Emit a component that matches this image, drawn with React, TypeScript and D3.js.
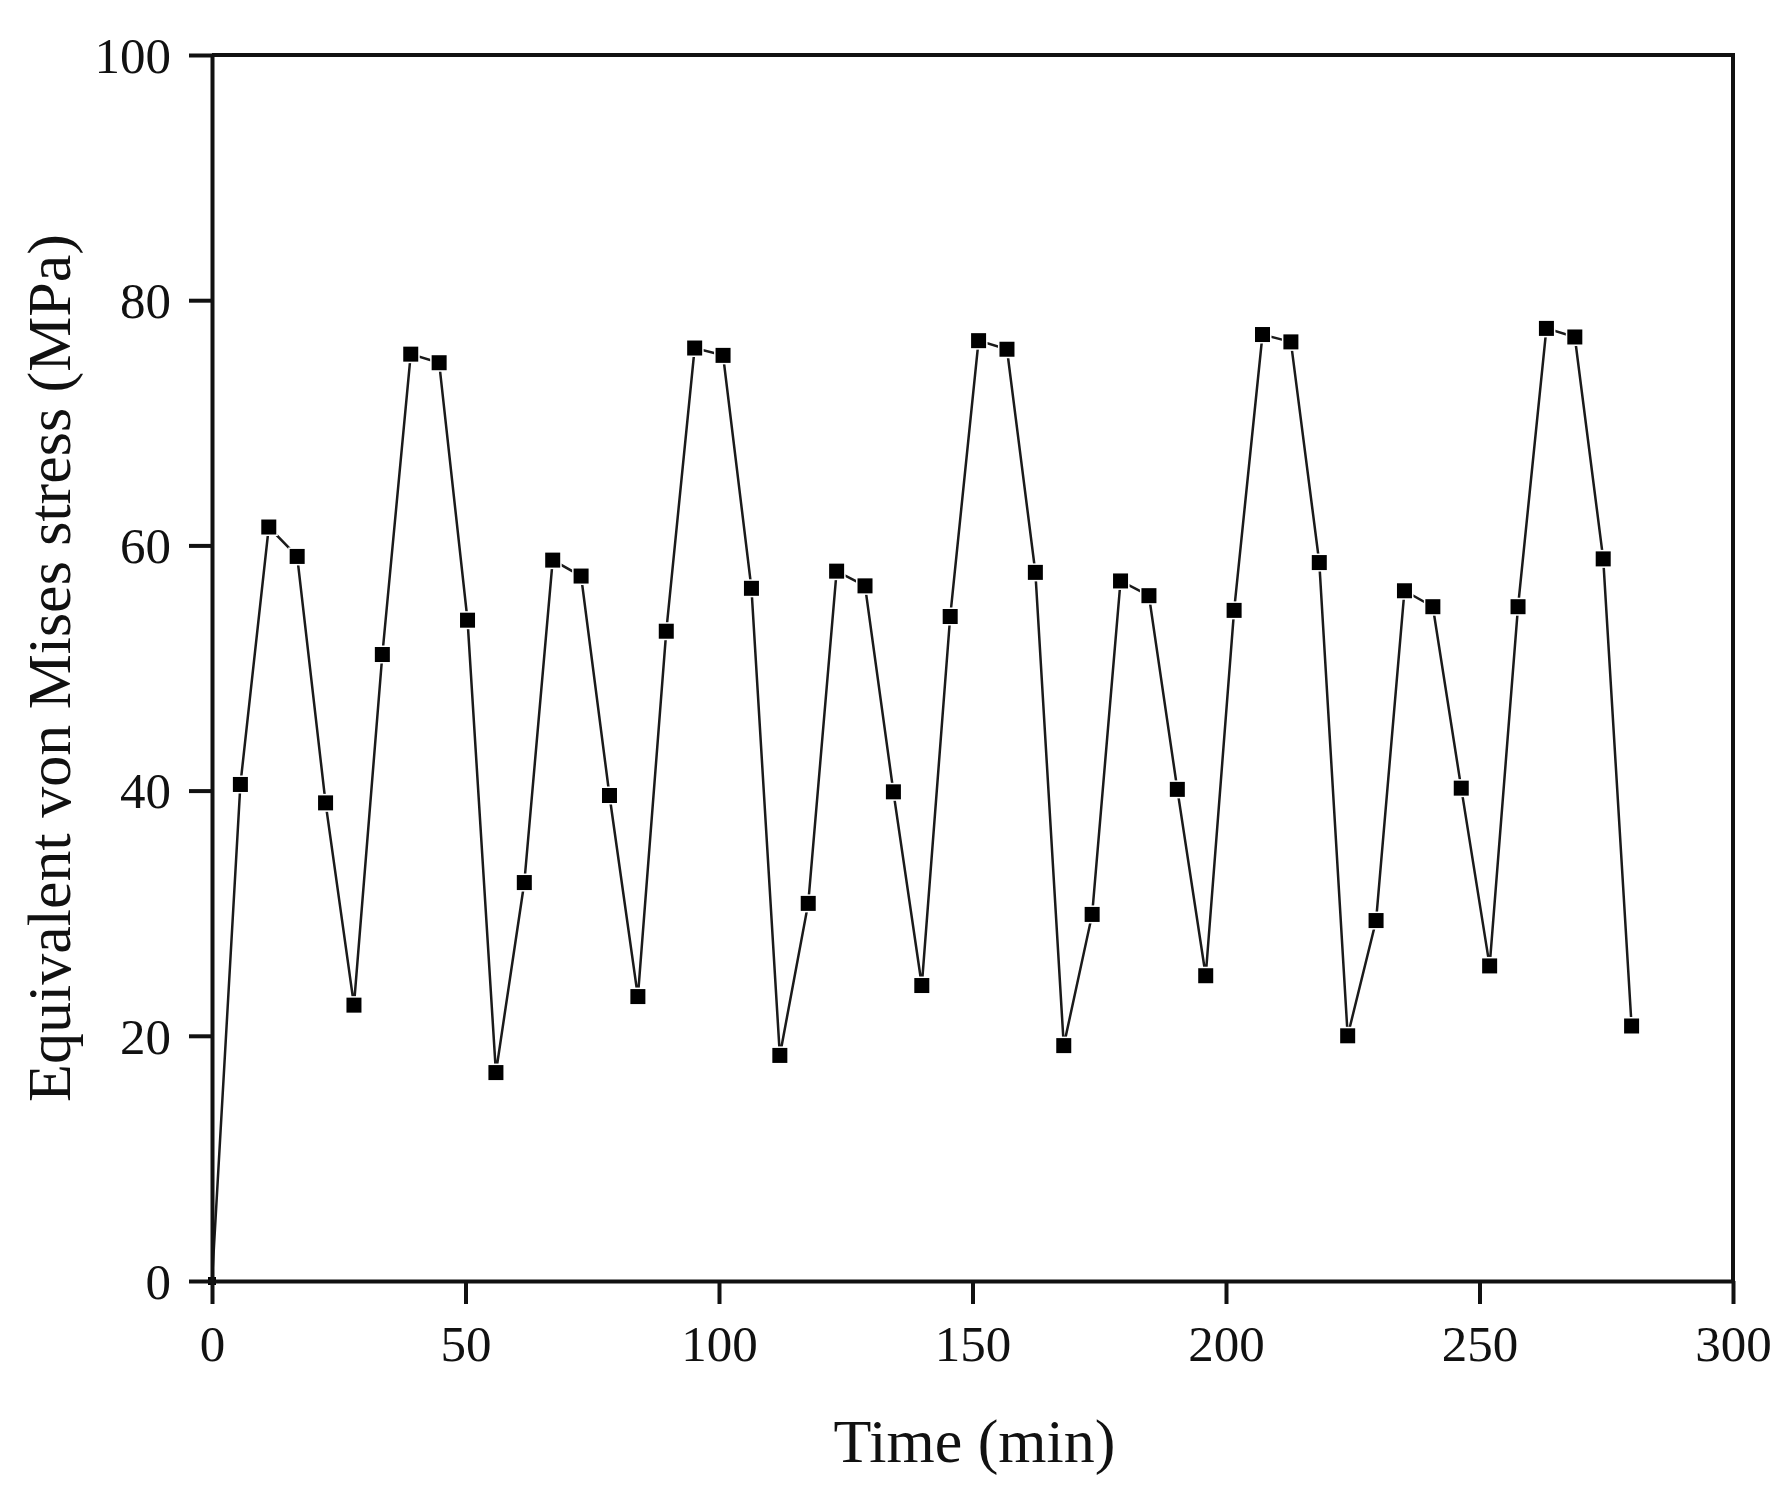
import React, { useEffect, useRef } from 'react';
import * as d3 from 'd3';

// time (min) of each sample
const times = [
  0, 5.6, 11.2, 16.8, 22.4, 28, 33.6, 39.2, 44.8, 50.4,
  56, 61.6, 67.2, 72.8, 78.4, 84, 89.6, 95.2, 100.8, 106.4,
  112, 117.6, 123.2, 128.8, 134.4, 140, 145.6, 151.2, 156.8, 162.4,
  168, 173.6, 179.2, 184.8, 190.4, 196, 201.6, 207.2, 212.8, 218.4,
  224, 229.6, 235.2, 240.8, 246.4, 252, 257.6, 263.2, 268.8, 274.4,
  280,
];

// equivalent von Mises stress (MPa)
const stress = [
  0, 40.5, 61.5, 59.1, 39.0, 22.5, 51.1, 75.6, 74.9, 53.9,
  17.0, 32.5, 58.8, 57.5, 39.6, 23.2, 53.0, 76.1, 75.5, 56.5,
  18.4, 30.8, 57.9, 56.7, 39.9, 24.1, 54.2, 76.7, 76.0, 57.8,
  19.2, 29.9, 57.1, 55.9, 40.1, 24.9, 54.7, 77.2, 76.6, 58.6,
  20.0, 29.4, 56.3, 55.0, 40.2, 25.7, 55.0, 77.7, 77.0, 58.9,
  20.8,
];

const xTicks = [0, 50, 100, 150, 200, 250, 300];
const yTicks = [0, 20, 40, 60, 80, 100];

const xTitle = 'Time (min)';
const yTitle = 'Equivalent von Mises stress (MPa)';

export default function App() {
  const svgRef = useRef<SVGSVGElement>(null);

  useEffect(() => {
    if (!svgRef.current) return;
    document.body.style.margin = '0';

    const width = 1776;
    const height = 1487;
    const margin = { top: 55, right: 43, bottom: 206, left: 212 };
    const innerWidth = width - margin.left - margin.right;
    const innerHeight = height - margin.top - margin.bottom;
    const font = '"Liberation Serif", "Times New Roman", serif';

    const svg = d3.select(svgRef.current);
    svg.selectAll('*').remove();

    svg.append('rect')
      .attr('width', width)
      .attr('height', height)
      .attr('fill', '#fff');

    const g = svg.append('g')
      .attr('transform', `translate(${margin.left},${margin.top})`);

    const x = d3.scaleLinear().domain([0, 300]).range([0, innerWidth]);
    const y = d3.scaleLinear().domain([0, 100]).range([innerHeight, 0]);

    // data line
    const line = d3.line<number>()
      .x((_, i) => x(times[i]))
      .y(d => y(d));

    g.append('path')
      .datum(stress)
      .attr('fill', 'none')
      .attr('stroke', '#1a1a1a')
      .attr('stroke-width', 2.5)
      .attr('d', line);

    // square markers with a white halo (the one at the origin sits under the axes)
    const size = 15;
    g.selectAll('.pt')
      .data(stress)
      .join('rect')
      .attr('class', 'pt')
      .attr('x', (_, i) => x(times[i]) - (i === 0 ? 4 : size / 2))
      .attr('y', (d, i) => y(d) - (i === 0 ? 4 : size / 2))
      .attr('width', (_, i) => (i === 0 ? 8 : size))
      .attr('height', (_, i) => (i === 0 ? 8 : size))
      .attr('fill', '#000')
      .attr('stroke', '#fff')
      .attr('stroke-width', 3)
      .attr('paint-order', 'stroke');

    // frame: top and right sides
    g.append('path')
      .attr('d', `M0,0H${innerWidth}V${innerHeight}`)
      .attr('fill', 'none')
      .attr('stroke', '#111')
      .attr('stroke-width', 4);

    const xAxis = g.append('g')
      .attr('transform', `translate(0,${innerHeight})`)
      .call(d3.axisBottom(x).tickValues(xTicks).tickSize(23).tickSizeOuter(0).tickPadding(21));

    const yAxis = g.append('g')
      .call(d3.axisLeft(y).tickValues(yTicks).tickSize(23).tickSizeOuter(0).tickPadding(18));

    [xAxis, yAxis].forEach(ax => {
      ax.select('.domain').attr('stroke', '#111').attr('stroke-width', 4);
      ax.selectAll('.tick line').attr('stroke', '#111').attr('stroke-width', 4);
      ax.selectAll('.tick text')
        .attr('fill', '#111')
        .style('font-family', font)
        .style('font-size', '51px');
    });

    xAxis.selectAll('.tick text').attr('dy', '0.71em');
    yAxis.selectAll('.tick text').attr('dy', '0.34em');

    // axis titles
    svg.append('text')
      .attr('x', margin.left + innerWidth / 2 + 2)
      .attr('y', 1462)
      .attr('text-anchor', 'middle')
      .attr('fill', '#111')
      .style('font-family', font)
      .style('font-size', '62px')
      .text(xTitle);

    svg.append('text')
      .attr('transform', `translate(70,${margin.top + innerHeight / 2}) rotate(-90)`)
      .attr('text-anchor', 'middle')
      .attr('fill', '#111')
      .style('font-family', font)
      .style('font-size', '62px')
      .text(yTitle);
  }, []);

  return <svg ref={svgRef} width={1776} height={1487} style={{ display: 'block' }} />;
}
